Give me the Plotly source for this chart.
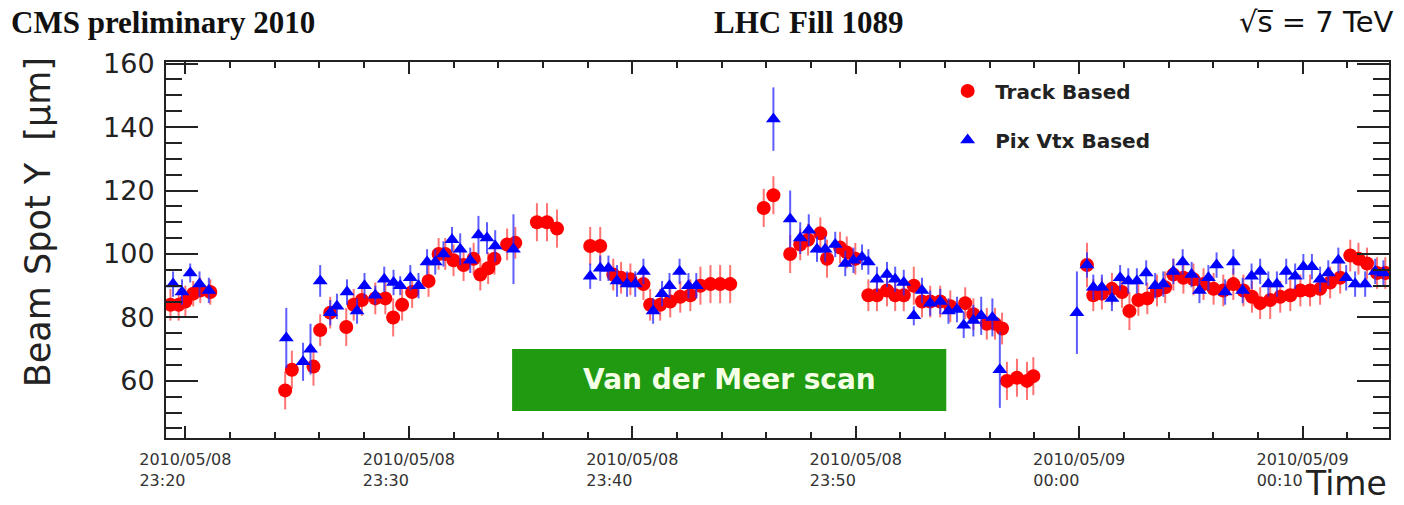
import pandas as pd
import plotly.graph_objects as go

# Beam spot Y position vs. time, LHC fill 1089 (2010/05/08-09)
# Times are seconds relative to 2010/05/08 23:20:00
track_sec = [-40, -18, 0, 21, 40, 67,
             268, 286, 344, 362, 389, 432, 452, 474, 510, 537, 558, 582, 609, 653,
             680, 698, 720, 747, 774, 792, 813, 830, 864, 886,
             944, 971, 998,
             1087, 1114, 1149, 1170, 1195, 1230, 1248, 1275, 1302, 1329, 1356, 1383,
             1410, 1436, 1463,
             1553, 1579, 1624, 1651, 1672, 1705, 1723, 1758, 1776, 1799, 1834, 1857,
             1884, 1906, 1929, 1956, 1978, 2000, 2027, 2054, 2094, 2116, 2152, 2174,
             2193, 2206, 2233, 2260, 2277,
             2421, 2438, 2461, 2488, 2515, 2535, 2559, 2583, 2609, 2631, 2653, 2680,
             2707, 2734, 2761, 2787, 2814, 2841, 2864, 2886, 2913, 2940, 2967, 2994,
             3020, 3047, 3074, 3101, 3128, 3150, 3173, 3200, 3222]
track_y = [84, 84, 85, 87.5, 88.5, 88,
           57, 63.5, 64.5, 76, 81.5, 77, 84, 85.5, 86, 86, 80, 84, 88, 91.5,
           100, 100, 98, 96.5, 98.5, 93.5, 95.5, 98.5, 103, 103.5,
           110, 110, 108,
           102.5, 102.5, 93.5, 92.5, 92, 90.5, 84, 84, 85, 86.5, 87, 90,
           90.5, 90.5, 90.5,
           114.5, 118.5, 100, 103, 104.5, 106.5, 98.5, 102, 100.5, 98.5, 87, 87,
           88.5, 87, 87, 90, 85, 85, 85, 83.5, 84.5, 81, 78, 78,
           76.5, 60, 61, 60, 61.5,
           96.5, 87, 87.5, 89, 88, 82, 85.5, 86, 88.5, 89.5, 93.5, 92.5,
           92, 90.5, 89, 88.5, 90.5, 88.5, 86.5, 84.5, 85.5, 86.5, 87, 88.5,
           88.5, 89, 91, 92.5, 99.5, 98.5, 97, 94, 94]
track_err = [5, 5, 5, 4, 4, 4,
             6, 6, 6, 5, 5, 6, 5, 5, 5, 5, 6, 5, 5, 5,
             5, 5, 5, 5, 5, 5, 5, 5, 5, 5,
             6, 6, 6,
             6, 6, 5, 5, 5, 5, 5, 5, 5, 5, 5, 6,
             6, 6, 6,
             6, 6, 6, 5, 5, 5, 6, 5, 5, 5, 5, 5,
             5, 5, 5, 6, 5, 5, 5, 5, 5, 5, 5, 5,
             5, 6, 6, 6, 6,
             7, 5, 5, 5, 5, 6, 5, 5, 5, 5, 5, 5,
             5, 5, 5, 5, 5, 5, 5, 5, 6, 5, 5, 5,
             5, 5, 5, 5, 5, 5, 5, 5, 5]

pixvtx_sec = [-33, -9, 13, 38, 63,
              271, 316, 336, 362, 389, 407, 434, 461, 481, 510, 534, 559, 577, 604,
              626, 649, 671, 693, 716, 738, 765, 787, 810, 832, 881,
              1087, 1114, 1136, 1159, 1186, 1208, 1230, 1256, 1280, 1300, 1327, 1351,
              1372,
              1579, 1624, 1651, 1674, 1696, 1718, 1745, 1772, 1794, 1817, 1834, 1857,
              1884, 1906, 1929, 1956, 1978, 2000, 2027, 2049, 2072, 2090, 2116, 2137,
              2167, 2187,
              2394, 2421, 2438, 2461, 2488, 2510, 2532, 2555, 2580, 2604, 2626, 2653,
              2678, 2702, 2723, 2747, 2769, 2792, 2814, 2839, 2863, 2886, 2908, 2931,
              2956, 2980, 3002, 3025, 3047, 3069, 3096, 3117, 3141, 3168, 3195, 3217]
pixvtx_y = [90.5, 88, 94, 90.5, 88.5,
            73.5, 66, 70, 91.5, 81.5, 83.5, 88, 82, 90, 87, 92, 91, 90, 92.5,
            90, 97.5, 97.5, 100, 104.5, 101.5, 98, 106, 105, 102.5, 101.5,
            93, 95.5, 95.5, 91.5, 90.5, 90.5, 94.5, 82, 87.5, 90, 94.5, 90,
            90,
            142.5, 111, 105, 107.5, 101.5, 101.5, 103, 97, 98, 99, 97.5, 92,
            93.5, 92, 91, 80.5, 88.5, 84.5, 85, 82, 82.5, 77.5, 79, 80.5,
            80, 63.5,
            81.5, 96.5, 89.5, 89.5, 86, 92.5, 91.5, 91.5, 94, 90, 90.5, 94.5,
            97.5, 93.5, 88.5, 92.5, 96.5, 88, 97.5, 88.5, 93, 94.5, 90.5, 90.5,
            94.5, 93, 96, 96, 92, 94, 98, 92.5, 90.5, 90.5, 94.5, 94]
pixvtx_err = [4, 4, 3, 4, 4,
              9.5, 6, 8, 5, 4, 4, 4, 4, 4, 3, 4, 4, 3, 4,
              4, 4, 4, 4, 4, 5, 4, 6, 5, 5, 11,
              4, 4, 4, 5, 4, 4, 4, 4, 4, 4, 4, 4,
              4,
              10, 9, 5, 5, 4, 4, 4, 4, 4, 4, 4, 4,
              4, 4, 4, 3, 4, 4, 4, 4, 4, 4, 5, 6,
              6, 12,
              13, 4, 4, 4, 4, 4, 4, 4, 4, 4, 4, 4,
              4, 4, 4, 4, 4, 4, 4, 4, 4, 4, 4, 4,
              4, 4, 4, 4, 4, 4, 4, 4, 4, 4, 4, 4]

tick_times = ["23:20", "23:30", "23:40", "23:50", "00:00", "00:10"]
tick_dates = ["2010/05/08", "2010/05/08", "2010/05/08", "2010/05/08",
              "2010/05/09", "2010/05/09"]

base = pd.Timestamp("2010-05-08 23:20:00")
track_t = base + pd.to_timedelta(track_sec, unit="s")
pixvtx_t = base + pd.to_timedelta(pixvtx_sec, unit="s")
tick_vals = pd.date_range(base, periods=len(tick_times), freq="10min")
# second line padded with no-break spaces so both lines start flush left
tick_text = [f"{d}<br>{t}" + "\u00a0" * 9 for d, t in zip(tick_dates, tick_times)]

SANS = "DejaVu Sans"
SERIF = "Liberation Serif"
AXIS_COLOR = "#222222"

fig = go.Figure()
fig.add_trace(go.Scatter(
    x=track_t, y=track_y, mode="markers", name="Track Based",
    legendgroup="track",
    marker=dict(symbol="circle", size=14, color="#ff0000", line=dict(width=0)),
    error_y=dict(type="data", array=track_err, color="rgba(255,40,40,0.65)",
                 thickness=2, width=0),
))
fig.add_trace(go.Scatter(
    x=pixvtx_t, y=pixvtx_y, mode="markers", name="Pix Vtx Based",
    legendgroup="pixvtx",
    marker=dict(symbol="triangle-up", size=13, color="#0000ff", line=dict(width=0)),
    error_y=dict(type="data", array=pixvtx_err, color="rgba(40,40,255,0.75)",
                 thickness=2, width=0),
))

fig.update_xaxes(
    type="date",
    range=["2010-05-08 23:19:08", "2010-05-09 00:13:52"],
    tickmode="array", tickvals=tick_vals, ticktext=tick_text,
    ticks="inside", ticklen=12, tickwidth=2, tickcolor=AXIS_COLOR,
    minor=dict(tickmode="linear", tick0="2010-05-08 23:20:00", dtick=120000,
               ticks="inside", ticklen=6, tickwidth=2, tickcolor=AXIS_COLOR),
    tickfont=dict(family=SANS, size=16, color="#333333"),
    ticklabelstandoff=6,
    showline=True, linewidth=2, linecolor=AXIS_COLOR, mirror="ticks",
    showgrid=False, zeroline=False,
)
fig.update_yaxes(
    range=[42, 160.5],
    tickmode="linear", tick0=0, dtick=20,
    ticks="inside", ticklen=32, tickwidth=2, tickcolor=AXIS_COLOR,
    minor=dict(dtick=5, ticks="inside", ticklen=16, tickwidth=2,
               tickcolor=AXIS_COLOR),
    tickfont=dict(family=SANS, size=27, color="#222222"),
    ticklabelstandoff=4,
    showline=True, linewidth=2, linecolor=AXIS_COLOR, mirror="ticks",
    showgrid=False, zeroline=False,
)

annotations = [
    dict(text="<b>CMS preliminary 2010</b>", x=-0.128, y=1.106, xanchor="left",
         yanchor="middle", font=dict(family=SERIF, size=31, color="#111111")),
    dict(text="<b>LHC Fill 1089</b>", x=0.525, y=1.106, xanchor="center",
         yanchor="middle", font=dict(family=SERIF, size=31, color="#111111")),
    dict(text="\u221as\u0305 = 7 TeV", x=1.006, y=1.106, xanchor="right",
         yanchor="middle", font=dict(family=SANS, size=29, color="#111111")),
    dict(text="Beam Spot Y  [\u00b5m]", x=-0.1047, y=1.018, textangle=-90,
         xanchor="center", yanchor="top",
         font=dict(family=SANS, size=35, color="#222222")),
    dict(text="Time", x=1.0, y=-0.1782, xanchor="right", yanchor="bottom",
         font=dict(family=SANS, size=33, color="#222222")),
    dict(text="<b>Van der Meer scan</b>", x=0.4605, y=0.1543, xanchor="center",
         yanchor="middle", font=dict(family=SANS, size=28, color="#f4ffe6")),
]
for a in annotations:
    a.update(xref="paper", yref="paper", showarrow=False)

fig.update_layout(
    width=1404, height=505,
    margin=dict(l=166, r=15, t=62, b=67),
    paper_bgcolor="white", plot_bgcolor="white",
    annotations=annotations,
    shapes=[dict(type="rect", xref="paper", yref="paper",
                 x0=0.283, x1=0.638, y0=0.0718, y1=0.2367,
                 fillcolor="#209a10", line=dict(width=0), layer="above")],
    showlegend=True,
    legend=dict(x=0.633, y=0.975, xanchor="left", yanchor="top",
                bgcolor="rgba(0,0,0,0)", borderwidth=0,
                font=dict(family=SANS, size=20, color="#222222", weight="bold"),
                tracegroupgap=20, itemwidth=45),
)

fig.write_html("out.html")
